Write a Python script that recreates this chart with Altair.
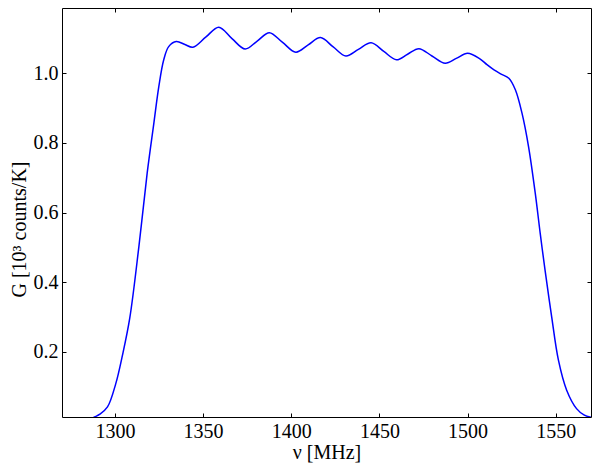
import altair as alt
import pandas as pd

nu = [1286.0, 1288.5, 1291.5, 1295.8, 1300.5, 1304.3, 1308.4, 1313.6, 1318.3, 1322.1,
      1324.9, 1327.7, 1330.5, 1334.8, 1339.7, 1344.2, 1351.5, 1358.9, 1366.4,
      1373.9, 1380.7, 1387.6, 1395.1, 1402.6, 1409.6, 1416.6, 1423.8, 1431.0, 1438.1,
      1445.3, 1452.5, 1459.7, 1466.0, 1472.4, 1479.8, 1487.3, 1493.6, 1500.0, 1507.0,
      1511.0, 1515.0, 1519.0, 1523.4, 1527.1, 1530.9, 1534.6, 1538.4, 1541.2, 1544.0,
      1547.7, 1551.5, 1556.2, 1561.8, 1566.0, 1570.0]
gain = [0.005, 0.012, 0.020, 0.041, 0.108, 0.190, 0.2955, 0.502, 0.713, 0.857,
        0.962, 1.039, 1.077, 1.0915, 1.083, 1.075, 1.104, 1.133, 1.100,
        1.070, 1.093, 1.117, 1.089, 1.061, 1.082, 1.103, 1.076, 1.050, 1.069,
        1.088, 1.063, 1.039, 1.055, 1.071, 1.050, 1.029, 1.043, 1.058, 1.042,
        1.025, 1.010, 0.998, 0.986, 0.953, 0.885, 0.789, 0.655, 0.540, 0.432,
        0.300, 0.176, 0.089, 0.036, 0.018, 0.011]

x_ticks = [1300, 1350, 1400, 1450, 1500, 1550]
y_ticks = [0.2, 0.4, 0.6, 0.8, 1.0]

df = pd.DataFrame({"nu": nu, "G": gain})

FONT = "Liberation Serif"
FS = 20

xs = alt.Scale(domain=[1270, 1570], nice=False, zero=False)
ys = alt.Scale(domain=[0.012, 1.188], nice=False, zero=False)

ax_main = alt.Axis(orient="bottom", values=x_ticks, format="d", ticks=False, domain=False,
                   grid=False, labelFont=FONT, labelFontSize=FS, labelColor="black",
                   labelPadding=4, titleFont=FONT, titleFontSize=FS, titleFontWeight="normal",
                   titleColor="black", titleY=35, titleBaseline="middle")
ay_main = alt.Axis(orient="left", values=y_ticks, format=".1f", ticks=False, domain=False,
                   grid=False, labelFont=FONT, labelFontSize=FS, labelColor="black",
                   labelPadding=4, titleFont=FONT, titleFontSize=FS, titleFontWeight="normal",
                   titleColor="black", titleX=-43, titleY=221, titleBaseline="middle",
                   titleAlign="center", titleAngle=270)

def tick_axis(orient, vals):
    return alt.Axis(orient=orient, values=vals, offset=-4, tickSize=4, tickColor="black",
                    tickWidth=1, labels=False, domain=False, grid=False, title=None)

line = alt.Chart(df).mark_line(color="#0000ff", strokeWidth=1.5, interpolate="catmull-rom",
                               clip=True).encode(
    x=alt.X("nu:Q", scale=xs, axis=ax_main, title="ν [MHz]"),
    y=alt.Y("G:Q", scale=ys, axis=ay_main, title="G [10³ counts/K]"),
)

t1 = alt.Chart(df).mark_line(opacity=0).encode(
    x=alt.X("nu:Q", scale=xs, axis=tick_axis("bottom", x_ticks)),
    y=alt.Y("G:Q", scale=ys, axis=tick_axis("left", y_ticks)),
)
t2 = alt.Chart(df).mark_line(opacity=0).encode(
    x=alt.X("nu:Q", scale=xs, axis=tick_axis("top", x_ticks)),
    y=alt.Y("G:Q", scale=ys, axis=tick_axis("right", y_ticks)),
)

chart = alt.layer(line, t1, t2).resolve_axis(x="independent", y="independent").properties(
    width=529, height=409,
    autosize=alt.AutoSizeParams(type="none"),
    padding={"left": 54, "top": 0, "right": 1, "bottom": 47},
    background="white",
).configure_view(stroke="black", strokeWidth=1)

chart.save("out.html", embed_options={"renderer": "svg", "actions": False})
